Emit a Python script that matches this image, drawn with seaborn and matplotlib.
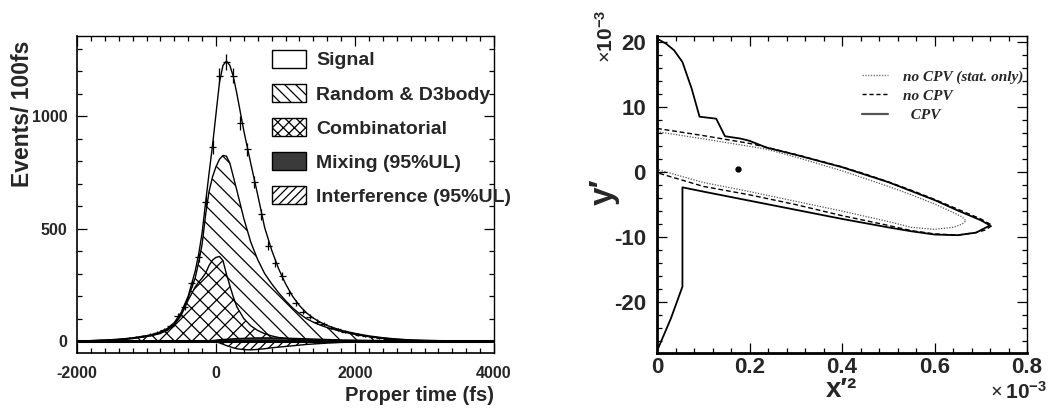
import numpy as np
import matplotlib
matplotlib.use("Agg")
import matplotlib.pyplot as plt
from matplotlib.patches import Patch
from matplotlib.lines import Line2D
from matplotlib.ticker import MultipleLocator
import seaborn as sns

# ---------------- proper-time distribution ----------------
bin_centres = np.arange(-1950, 4000, 100)
events = [0, 1, 2, 4, 5, 8, 10, 15, 18, 24,
          29, 37, 50, 68, 112, 150, 257, 372, 619, 863,
          1180, 1239, 1180, 969, 852, 708, 563, 424, 346, 290,
          213, 168, 131, 109, 87, 77, 60, 52, 41, 36,
          29, 22, 18, 13, 11, 8, 5, 4, 2, 2,
          1, 1, 0, 0, 0, 0, 0, 0, 0, 0]

# fit components sampled on a proper-time grid (fs)
t_grid = [-2000, -1800, -1600, -1400, -1200, -1000, -900, -800, -700, -600,
          -500, -400, -300, -250, -200, -150, -100, -50, 0, 50,
          100, 150, 200, 250, 300, 400, 500, 600, 700, 800,
          900, 1000, 1100, 1200, 1300, 1400, 1500, 1600, 1800, 2000,
          2200, 2400, 2600, 2800, 3000, 3500, 4000]
fit_total = [0.5, 2, 4, 8, 14, 24, 31, 41, 56, 82,
             128, 200, 310, 385, 480, 615, 745, 870, 1010, 1150,
             1225, 1245, 1225, 1175, 1100, 935, 790, 650, 505, 405,
             322, 255, 200, 158, 126, 102, 84, 69, 48, 34,
             23, 15, 9, 5, 3, 0.5, 0]
fit_random_top = [0.4, 1.8, 3.5, 7, 12.5, 22, 28, 38, 52, 77,
                  122, 193, 280, 350, 430, 560, 665, 730, 775, 808,
                  825, 822, 790, 730, 670, 545, 440, 362, 300, 255,
                  215, 180, 148, 122, 100, 84, 71, 60, 43, 30,
                  20, 13, 8, 4.5, 2.5, 0.4, 0]
fit_comb = [0.4, 1.6, 3.2, 6.5, 11.5, 20, 26, 34, 48, 72,
            115, 182, 240, 262, 280, 302, 336, 360, 372, 376,
            358, 298, 245, 195, 152, 100, 68, 47, 33, 23,
            16, 12, 8, 6, 4, 3, 2, 1.5, 1, 0.5,
            0.3, 0.2, 0.1, 0, 0, 0, 0]
fit_mixing = [0, 0, 0, 0, 0, 0, 0, 0, 0, 0,
              0, 0, 0, 0, 0, 0, 1, 2, 4, 6,
              7, 8, 9, 10, 11, 12, 13, 14, 14, 14,
              13, 13, 12, 11, 10, 9, 8, 7, 5, 4,
              3, 2, 1.5, 1, 0, 0, 0]
fit_interference = [0, 0, 0, 0, 0, 0, 0, 0, 0, 0,
                    0, 0, 0, 0, 0, 0, 0, -1, -3, -8,
                    -14, -20, -25, -30, -34, -38, -39, -37, -34, -30,
                    -27, -24, -21, -18, -15, -13, -11, -9, -6, -4,
                    -2.5, -1.5, -1, -0.5, 0, 0, 0]

legend_left = ["Signal", "Random & D3body", "Combinatorial",
               "Mixing (95%UL)", "Interference (95%UL)"]

# ---------------- x'^2 - y' contours (units of 1e-3) ----------------
stat_x = [0, 0.1, 0.2, 0.237, 0.3, 0.4, 0.45, 0.5, 0.55, 0.6, 0.64, 0.66, 0.668,
          0.66, 0.64, 0.6, 0.55, 0.5, 0.4, 0.3, 0.2, 0.1, 0]
stat_y = [6.2, 5.1, 3.95, 3.5, 2.3, 0.2, -1.0, -2.2, -3.5, -4.9, -6.2, -6.9, -7.5,
          -8.0, -8.5, -8.8, -8.5, -7.6, -6.0, -4.5, -3.0, -1.6, 0.4]
nocpv_x = [0, 0.1, 0.2, 0.237, 0.3, 0.4, 0.45, 0.5, 0.55, 0.6, 0.65, 0.7, 0.725,
           0.71, 0.69, 0.65, 0.6, 0.55, 0.5, 0.4, 0.3, 0.2, 0.1, 0]
nocpv_y = [6.7, 5.6, 4.4, 3.8, 2.7, 0.8, -0.3, -1.5, -2.8, -4.2, -5.7, -7.2, -8.2,
           -8.9, -9.3, -9.7, -9.5, -9.0, -8.2, -6.7, -5.0, -3.5, -2.2, -0.1]
cpv_x = [0, 0.02, 0.037, 0.055, 0.075, 0.092, 0.128, 0.147, 0.18, 0.2, 0.237,
         0.3, 0.4, 0.5, 0.6, 0.65, 0.7, 0.72,
         0.69, 0.65, 0.6, 0.55, 0.5, 0.4, 0.3, 0.25, 0.2, 0.15, 0.1, 0.055,
         0.055, 0.03, 0]
cpv_y = [20.5, 19.7, 18.7, 16.9, 12.8, 8.5, 8.2, 5.5, 5.15, 4.8, 3.75,
         2.65, 0.75, -1.55, -4.3, -5.9, -7.4, -8.2,
         -9.3, -9.7, -9.6, -9.1, -8.5, -7.2, -5.8, -5.1, -4.4, -3.7, -3.0, -2.35,
         -17.6, -22.5, -27.5]
best_fit = (0.176, 0.5)
legend_right = ["no CPV (stat. only)", "no CPV", "  CPV"]

# ---------------- style ----------------
sns.set_theme(style="ticks")
SANS = ["Liberation Sans", "DejaVu Sans"]
plt.rcParams["font.family"] = SANS
plt.rcParams["font.weight"] = "bold"
plt.rcParams["axes.unicode_minus"] = False
plt.rcParams["mathtext.fontset"] = "custom"
plt.rcParams["mathtext.rm"] = "Liberation Serif"
plt.rcParams["mathtext.bf"] = "Liberation Sans:bold"
plt.rcParams["hatch.linewidth"] = 0.9
plt.rcParams["xtick.direction"] = "in"
plt.rcParams["ytick.direction"] = "in"

W, H = 1051, 413
fig = plt.figure(figsize=(W / 100, H / 100), dpi=100)
fig.patch.set_facecolor("white")


def box(x0, y0, x1, y1):
    return [x0 / W, 1 - y1 / H, (x1 - x0) / W, (y1 - y0) / H]


def style_axes(ax, lw_main):
    for side in ("left", "bottom"):
        ax.spines[side].set_linewidth(lw_main)
    for side in ("right", "top"):
        ax.spines[side].set_linewidth(1.0)
    for s in ax.spines.values():
        s.set_color("black")
    ax.tick_params(which="both", top=True, right=True, direction="in",
                   color="black", width=0.9)
    ax.tick_params(which="major", length=7)
    ax.tick_params(which="minor", length=3.5)
    ax.set_facecolor("white")


# ---- left panel ----
ax1 = fig.add_axes(box(77, 36, 494, 353))
t = np.array(t_grid)
tot = np.array(fit_total)
rtop = np.array(fit_random_top)
comb = np.array(fit_comb)
mix = np.array(fit_mixing)
intf = np.array(fit_interference)

ax1.fill_between(t, rtop, tot, facecolor="white", edgecolor="none", lw=0)
ax1.fill_between(t, comb, rtop, facecolor="none", edgecolor="black", hatch="\\\\", lw=0)
ax1.fill_between(t, 0, comb, facecolor="none", edgecolor="black", hatch="xx", lw=0)
ax1.fill_between(t, intf, 0, facecolor="none", edgecolor="black", hatch="////", lw=0)
ax1.fill_between(t, 0, mix, facecolor="#3a3a3a", edgecolor="none", lw=0)

for curve in (tot, rtop, comb, intf, mix):
    sns.lineplot(x=t, y=curve, ax=ax1, color="black", lw=1.0, estimator=None)
ax1.axhline(0, color="black", lw=2.2)
ax1.errorbar(bin_centres, events, xerr=50, yerr=np.sqrt(events), fmt="none",
             ecolor="black", elinewidth=0.9, capsize=0)

ax1.set_xlim(-2000, 4000)
ax1.set_ylim(-53, 1356)
ax1.set_xticks([-2000, 0, 2000, 4000])
ax1.set_yticks([0, 500, 1000])
ax1.xaxis.set_minor_locator(MultipleLocator(200))
ax1.yaxis.set_minor_locator(MultipleLocator(100))
style_axes(ax1, 1.2)
ax1.tick_params(which="major", labelsize=11.5, pad=7)
ax1.tick_params(axis="x", which="major", pad=9)
for lab in ax1.get_xticklabels() + ax1.get_yticklabels():
    lab.set_fontweight("bold")
ax1.set_xlabel("Proper time (fs)", fontsize=14.5, fontweight="bold")
ax1.xaxis.label.set_ha("right")
ax1.xaxis.label.set_va("center")
ax1.xaxis.set_label_coords(1.0, -0.133)
ax1.set_ylabel("Events/ 100fs", fontsize=16.5, fontweight="bold")
ax1.yaxis.label.set_va("center")
ax1.yaxis.set_label_coords(-0.13, 0.754)

handles = [Patch(facecolor="white", edgecolor="black", lw=1.0),
           Patch(facecolor="white", edgecolor="black", hatch="\\\\\\", lw=1.0),
           Patch(facecolor="white", edgecolor="black", hatch="xxx", lw=1.0),
           Patch(facecolor="#3a3a3a", edgecolor="black", lw=1.0),
           Patch(facecolor="white", edgecolor="black", hatch="////", lw=1.0)]
ax1.legend(handles, legend_left, loc="upper left", bbox_to_anchor=(0.4676, 0.956),
           frameon=False, handlelength=1.75, handleheight=1.03,
           labelspacing=0.75, handletextpad=0.52, borderaxespad=0, borderpad=0,
           prop={"family": SANS, "weight": "bold", "size": 14})

# ---- right panel ----
ax2 = fig.add_axes(box(657, 36, 1027, 353))
sns.lineplot(x=stat_x, y=stat_y, ax=ax2, sort=False, estimator=None,
             color="#555555", lw=0.9, linestyle=(0, (1, 1.2)))
sns.lineplot(x=nocpv_x, y=nocpv_y, ax=ax2, sort=False, estimator=None,
             color="black", lw=1.0, linestyle=(0, (3.5, 2)))
sns.lineplot(x=cpv_x, y=cpv_y, ax=ax2, sort=False, estimator=None,
             color="black", lw=1.3)
ax2.plot([best_fit[0]], [best_fit[1]], "o", color="black", ms=3.5)
ax2.set_xlim(0, 0.8)
ax2.set_ylim(-27.8, 20.9)
ax2.set_xticks([0, 0.2, 0.4, 0.6, 0.8])
ax2.set_xticklabels(["0", "0.2", "0.4", "0.6", "0.8"])
ax2.set_yticks([-20, -10, 0, 10, 20])
ax2.xaxis.set_minor_locator(MultipleLocator(0.04))
ax2.yaxis.set_minor_locator(MultipleLocator(2))
style_axes(ax2, 2.0)
ax2.tick_params(which="major", labelsize=16, pad=8)
ax2.tick_params(axis="x", which="major", pad=3)
for lab in ax2.get_xticklabels() + ax2.get_yticklabels():
    lab.set_fontweight("bold")

ax2.set_xlabel("x\u2032\u00b2", fontsize=20, fontweight="bold")
ax2.xaxis.label.set_va("center")
ax2.xaxis.set_label_coords(0.5, -0.116)
ax2.set_ylabel("y\u2032", fontsize=24, fontweight="bold")
ax2.yaxis.label.set_va("center")
ax2.yaxis.set_label_coords(-0.143, 0.508)

fig.text(606 / W, 1 - 36 / H, "$\\times\\mathbf{10^{-3}}$", rotation=90,
         ha="center", va="center", fontsize=15)
fig.text(1019 / W, 1 - 392 / H, "$\\times\\,\\mathbf{10^{-3}}$",
         ha="center", va="center", fontsize=15)

lhandles = [Line2D([], [], color="#777777", lw=1.0, linestyle=(0, (1, 1))),
            Line2D([], [], color="black", lw=1.0, linestyle=(0, (3, 2))),
            Line2D([], [], color="#555555", lw=1.6)]
ax2.legend(lhandles, legend_right, loc="upper left", bbox_to_anchor=(0.554, 0.893),
           frameon=False, handlelength=1.7, handletextpad=1.0, labelspacing=0.35,
           borderaxespad=0, borderpad=0,
           prop={"family": "Liberation Serif", "weight": "bold", "style": "italic", "size": 11})

fig.savefig("out.png", dpi=100, facecolor="white")
